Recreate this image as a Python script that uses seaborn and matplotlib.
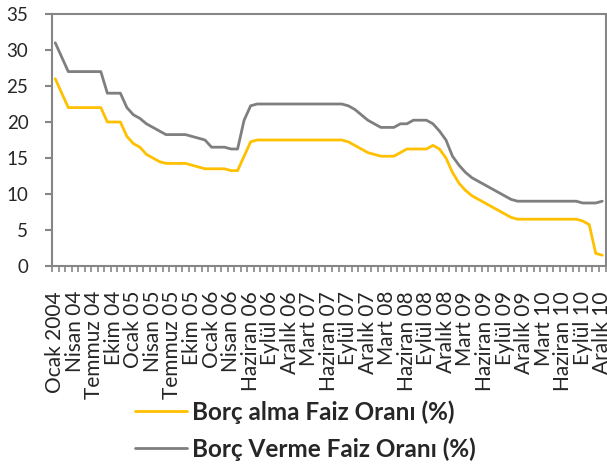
import matplotlib
matplotlib.use("Agg")
import matplotlib.pyplot as plt
import matplotlib.lines as mlines
import seaborn as sns
import pandas as pd

# TCMB overnight rates, monthly, Jan 2004 - Dec 2010 (June 2006 appears twice)
borc_alma = [
    26, 24, 22, 22, 22, 22, 22, 22, 20, 20,
    20, 18, 17, 16.5, 15.5, 15, 14.5, 14.25, 14.25, 14.25,
    14.25, 14, 13.75, 13.5, 13.5, 13.5, 13.5, 13.25, 13.25, 15.25,
    17.25, 17.5, 17.5, 17.5, 17.5, 17.5, 17.5, 17.5, 17.5, 17.5,
    17.5, 17.5, 17.5, 17.5, 17.5, 17.25, 16.75, 16.25, 15.75, 15.5,
    15.25, 15.25, 15.25, 15.75, 16.25, 16.25, 16.25, 16.25, 16.75, 16.25,
    15, 13, 11.5, 10.5, 9.75, 9.25, 8.75, 8.25, 7.75, 7.25,
    6.75, 6.5, 6.5, 6.5, 6.5, 6.5, 6.5, 6.5, 6.5, 6.5,
    6.5, 6.25, 5.75, 1.75, 1.5,
]
borc_verme = [
    31, 29, 27, 27, 27, 27, 27, 27, 24, 24,
    24, 22, 21, 20.5, 19.75, 19.25, 18.75, 18.25, 18.25, 18.25,
    18.25, 18, 17.75, 17.5, 16.5, 16.5, 16.5, 16.25, 16.25, 20.25,
    22.25, 22.5, 22.5, 22.5, 22.5, 22.5, 22.5, 22.5, 22.5, 22.5,
    22.5, 22.5, 22.5, 22.5, 22.5, 22.25, 21.75, 21, 20.25, 19.75,
    19.25, 19.25, 19.25, 19.75, 19.75, 20.25, 20.25, 20.25, 19.75, 18.75,
    17.5, 15.25, 14, 13, 12.25, 11.75, 11.25, 10.75, 10.25, 9.75,
    9.25, 9, 9, 9, 9, 9, 9, 9, 9, 9,
    9, 8.75, 8.75, 8.75, 9,
]
tick_labels = [
    "Ocak 2004", "Nisan 04", "Temmuz 04", "Ekim 04",
    "Ocak 05", "Nisan 05", "Temmuz 05", "Ekim 05",
    "Ocak 06", "Nisan 06", "Haziran 06", "Eylül 06", "Aralık 06",
    "Mart 07", "Haziran 07", "Eylül 07", "Aralık 07",
    "Mart 08", "Haziran 08", "Eylül 08", "Aralık 08",
    "Mart 09", "Haziran 09", "Eylül 09", "Aralık 09",
    "Mart 10", "Haziran 10", "Eylül 10", "Aralık 10",
]
series_names = ["Borç alma Faiz Oranı (%)", "Borç Verme Faiz Oranı (%)"]
y_ticks = [0, 5, 10, 15, 20, 25, 30, 35]

YELLOW = "#FFC000"
GREY = "#7F7F7F"
AXIS = "#868686"

sns.set_style("white")
plt.rcParams["font.family"] = ["Lato", "DejaVu Sans"]

n = len(borc_alma)
df = pd.DataFrame({
    "idx": list(range(n)) * 2,
    "rate": borc_alma + borc_verme,
    "series": [series_names[0]] * n + [series_names[1]] * n,
})

fig = plt.figure(figsize=(6.07, 4.67), dpi=100)
ax = fig.add_axes([52 / 607, 1 - 266 / 467, (605.5 - 52) / 607, (266 - 14) / 467])

sns.lineplot(data=df, x="idx", y="rate", hue="series",
             palette={series_names[0]: YELLOW, series_names[1]: GREY},
             linewidth=2.0, legend=False, ax=ax)

ax.set_xlim(-0.5, n - 0.5)
ax.set_ylim(0, 35)
ax.set_xlabel("")
ax.set_ylabel("")

for s in ax.spines.values():
    s.set_color(AXIS)
    s.set_linewidth(1.5)

ax.set_yticks(y_ticks)
ax.set_yticklabels([str(v) for v in y_ticks])
ax.tick_params(axis="y", direction="out", length=5, width=1.5, color=AXIS,
               pad=12, labelsize=13.5, left=True)

ax.set_xticks(list(range(0, n, 3)))
ax.set_xticklabels(tick_labels, rotation=90, va="top", ha="center")
ax.set_xticks([i - 0.5 for i in range(n + 1)], minor=True)
ax.tick_params(axis="x", which="major", length=0, pad=18, labelsize=15)
ax.tick_params(axis="x", which="minor", direction="out", length=4, width=1.2,
               color=AXIS, bottom=True)

handles = [mlines.Line2D([], [], color=YELLOW, linewidth=2.0),
           mlines.Line2D([], [], color=GREY, linewidth=2.0)]
fig.legend(handles, series_names, loc="upper left",
           bbox_to_anchor=(135 / 607, 1 - 400 / 467), frameon=False,
           prop={"weight": "bold", "size": 17.5}, handlelength=2.15,
           handletextpad=0.2, labelspacing=0.55, borderpad=0,
           borderaxespad=0)

fig.savefig("out.png", dpi=100)
